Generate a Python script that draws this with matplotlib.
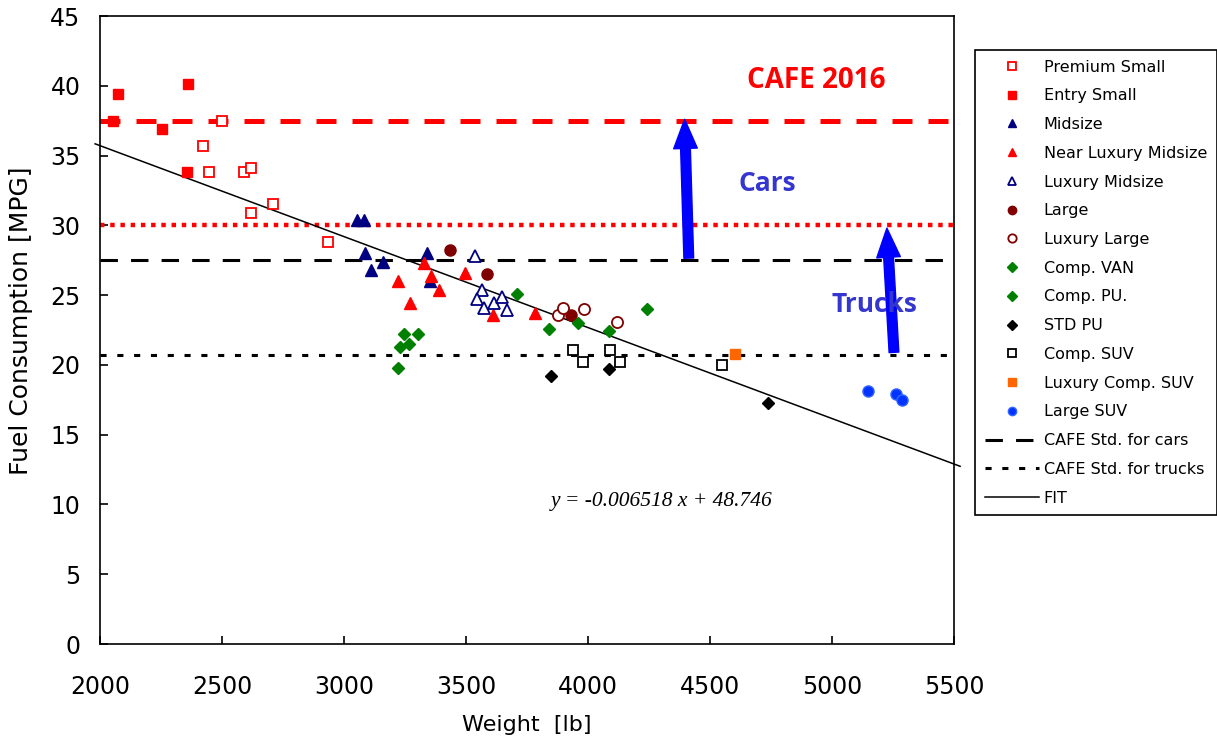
import numpy as np
import matplotlib
matplotlib.use('Agg')
import matplotlib.pyplot as plt
from matplotlib.lines import Line2D

# weight [lb] and fuel consumption [MPG] for each vehicle class
premium_small_w = [2502, 2423, 2446, 2591, 2620, 2709, 2620, 2934]
premium_small_mpg = [37.5, 35.7, 33.8, 33.8, 34.1, 31.5, 30.9, 28.8]
entry_small_w = [2075, 2360, 2052, 2254, 2356]
entry_small_mpg = [39.4, 40.1, 37.5, 36.9, 33.8]
midsize_w = [3053, 3081, 3087, 3112, 3160, 3339, 3351]
midsize_mpg = [30.4, 30.4, 28.0, 26.8, 27.4, 28.0, 26.0]
near_lux_w = [3220, 3327, 3357, 3390, 3272, 3496, 3609, 3784]
near_lux_mpg = [26.0, 27.3, 26.4, 25.4, 24.4, 26.6, 23.6, 23.7]
lux_mid_w = [3535, 3565, 3547, 3574, 3614, 3648, 3666]
lux_mid_mpg = [27.8, 25.4, 24.7, 24.1, 24.4, 24.9, 23.9]
large_w = [3433, 3587, 3929]
large_mpg = [28.2, 26.5, 23.6]
lux_large_w = [3876, 3898, 3985, 4119]
lux_large_mpg = [23.6, 24.1, 24.0, 23.1]
comp_van_w = [3710, 3840, 3957, 4086, 4243]
comp_van_mpg = [25.1, 22.6, 23.0, 22.4, 24.0]
comp_pu_w = [3245, 3231, 3267, 3305, 3222]
comp_pu_mpg = [22.2, 21.3, 21.5, 22.2, 19.8]
std_pu_w = [3849, 4086, 4737]
std_pu_mpg = [19.2, 19.7, 17.3]
comp_suv_w = [3939, 3978, 4090, 4130, 4551]
comp_suv_mpg = [21.1, 20.2, 21.1, 20.2, 20.0]
lux_comp_suv_w = [4602]
lux_comp_suv_mpg = [20.8]
large_suv_w = [5146, 5263, 5286]
large_suv_mpg = [18.1, 17.9, 17.5]

cafe_cars = 27.5
cafe_trucks = 20.7
cafe2016_cars = 37.5
cafe2016_trucks = 30.0
fit_slope = -0.006518
fit_icpt = 48.746

plt.rcParams['font.family'] = ['DejaVu Sans']

fig = plt.figure(figsize=(12.17, 7.42), dpi=100)
ax = fig.add_axes([100/1217, 1 - 644/742, 854/1217, 628/742])

series = [
    ('Premium Small', premium_small_w, premium_small_mpg, dict(marker='s', ms=7.5, mfc='white', mec='red', mew=1.3)),
    ('Entry Small', entry_small_w, entry_small_mpg, dict(marker='s', ms=7.5, mfc='red', mec='red')),
    ('Midsize', midsize_w, midsize_mpg, dict(marker='^', ms=8.5, mfc='#000080', mec='#000080')),
    ('Near Luxury Midsize', near_lux_w, near_lux_mpg, dict(marker='^', ms=8.5, mfc='red', mec='red')),
    ('Luxury Midsize', lux_mid_w, lux_mid_mpg, dict(marker='^', ms=8.5, mfc='white', mec='#000080', mew=1.3)),
    ('Large', large_w, large_mpg, dict(marker='o', ms=8, mfc='#800000', mec='#800000')),
    ('Luxury Large', lux_large_w, lux_large_mpg, dict(marker='o', ms=8, mfc='white', mec='#800000', mew=1.3)),
    ('Comp. VAN', comp_van_w, comp_van_mpg, dict(marker='D', ms=6.5, mfc='#008000', mec='#008000')),
    ('Comp. PU.', comp_pu_w, comp_pu_mpg, dict(marker='D', ms=6.5, mfc='#008000', mec='#008000')),
    ('STD PU', std_pu_w, std_pu_mpg, dict(marker='D', ms=6.5, mfc='black', mec='black')),
    ('Comp. SUV', comp_suv_w, comp_suv_mpg, dict(marker='s', ms=7.5, mfc='white', mec='black', mew=1.3)),
    ('Luxury Comp. SUV', lux_comp_suv_w, lux_comp_suv_mpg, dict(marker='s', ms=7.5, mfc='#ff6600', mec='#ff6600')),
    ('Large SUV', large_suv_w, large_suv_mpg, dict(marker='o', ms=8, mfc='#0033ff', mec='#3366ff')),
]

# CAFE reference lines
ax.axhline(cafe2016_cars, color='red', lw=3.6, ls=(0, (4, 3.2)), zorder=2)
ax.axhline(cafe2016_trucks, color='red', lw=3.2, ls=(0, (1, 1.3)), zorder=2)
ax.axhline(cafe_cars, color='black', lw=2.2, ls=(0, (5.7, 4.3)), zorder=2)
ax.axhline(cafe_trucks, color='black', lw=2.2, ls=(0, (2, 3.5)), zorder=2)

# linear fit
fx = np.array([1980, 5525])
ax.plot(fx, fit_slope * fx + fit_icpt, color='black', lw=1.1, clip_on=False, zorder=3)

handles = []
for name, w, mpg, st in series:
    ax.plot(w, mpg, ls='none', zorder=4, **st)
    handles.append(Line2D([], [], ls='none', label=name, **st))
handles.append(Line2D([], [], color='black', lw=2.2, ls=(0, (5.7, 4.3)), label='CAFE Std. for cars'))
handles.append(Line2D([], [], color='black', lw=2.2, ls=(0, (2, 3.5)), label='CAFE Std. for trucks'))
handles.append(Line2D([], [], color='black', lw=1.1, label='FIT'))

ax.set_xlim(2000, 5500)
ax.set_ylim(0, 45)
ax.set_xticks(np.arange(2000, 5501, 500))
ax.set_yticks(np.arange(0, 46, 5))
ax.tick_params(direction='in', length=6, width=1.2, labelsize=17)
ax.tick_params(axis='y', pad=14)
ax.tick_params(axis='x', pad=22)
for sp in ax.spines.values():
    sp.set_linewidth(1.2)
ax.set_xlabel('Weight  [lb]', fontsize=16, labelpad=12)
ax.set_ylabel('Fuel Consumption [MPG]', fontsize=18)
ax.yaxis.set_label_coords(-0.079, 0.515)

# target arrows
blue_arrow = dict(width=7, headwidth=17, headlength=21, color='#0000ff', shrink=0)
ax.annotate('', xy=(4396, 37.6), xytext=(4413, 27.65), arrowprops=blue_arrow)
ax.annotate('', xy=(5225, 29.8), xytext=(5254, 20.9), arrowprops=blue_arrow)

ax.text(4934, 40.4, 'CAFE 2016', color='red', fontsize=20, fontweight='bold',
        family='Open Sans', ha='center', va='center')
ax.text(4733, 33.0, 'Cars', color='#3535d0', fontsize=19, fontweight='bold',
        family='Open Sans', ha='center', va='center')
ax.text(5172, 24.3, 'Trucks', color='#3535d0', fontsize=19, fontweight='bold',
        family='Open Sans', ha='center', va='center')
ax.text(4300, 10.2, 'y = -0.006518 x + 48.746', fontsize=15.5, style='italic',
        family='Liberation Serif', ha='center', va='center')

leg = fig.legend(handles=handles, loc='upper left', bbox_to_anchor=(975/1217, 1 - 50/742),
                 borderaxespad=0, fontsize=11.5, frameon=True, fancybox=False,
                 edgecolor='black', framealpha=1, numpoints=1, markerscale=0.75,
                 handlelength=3.4, handletextpad=0.3, borderpad=0.6, labelspacing=0.86)
leg.get_frame().set_linewidth(1.2)

fig.savefig('out.png', dpi=100)
